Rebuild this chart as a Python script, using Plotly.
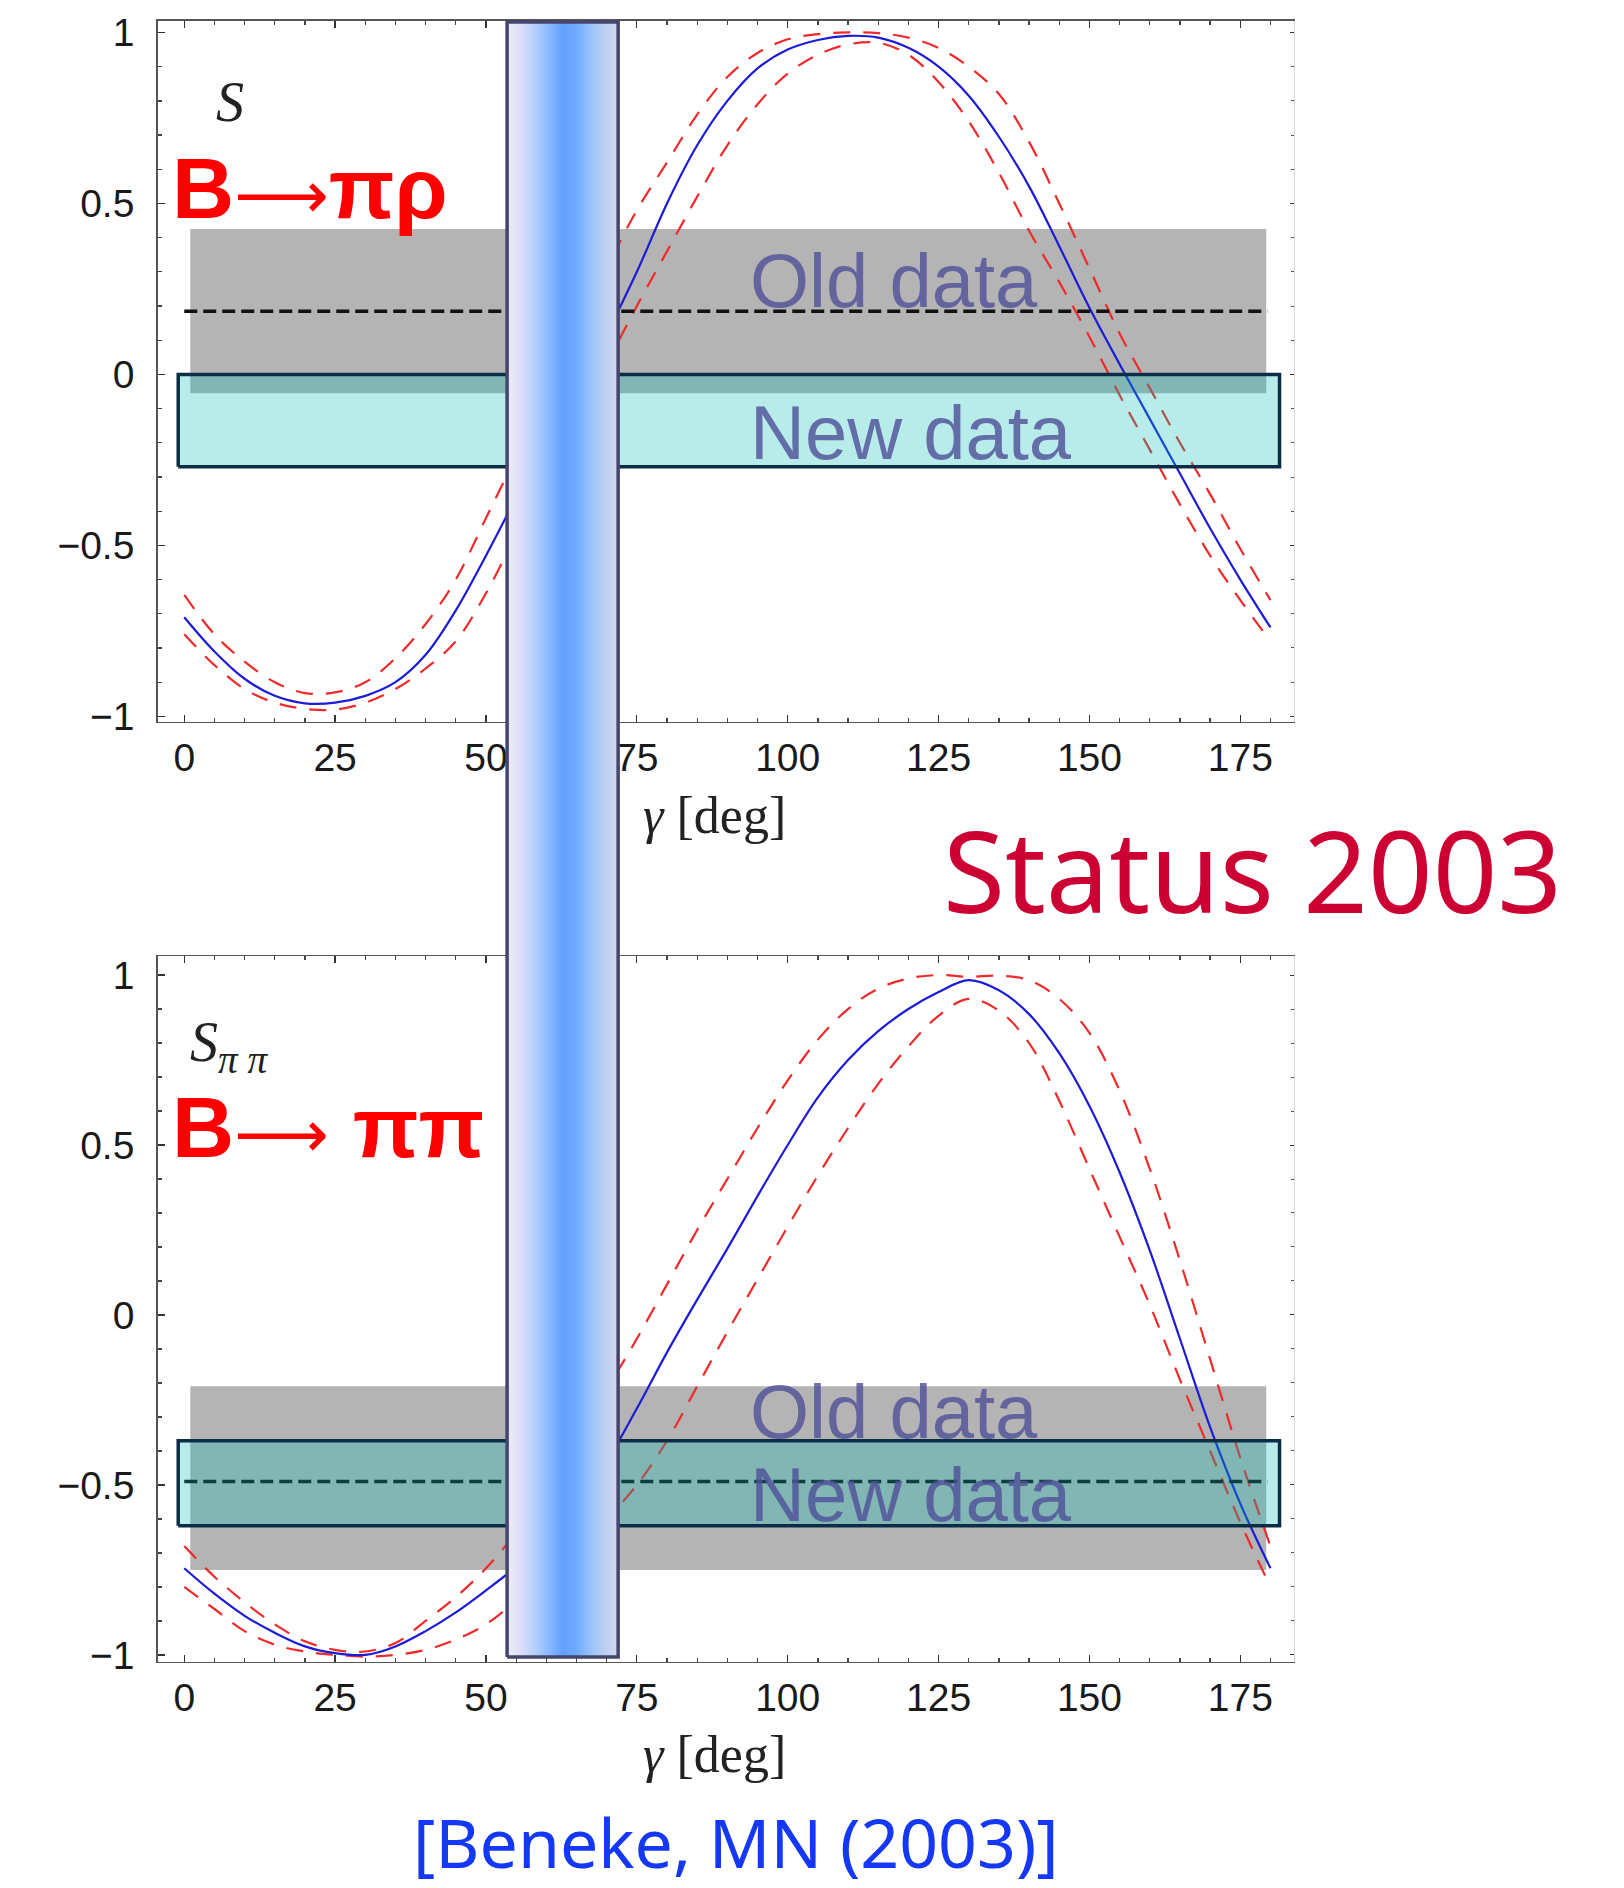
import plotly.graph_objects as go

# ---------------------------------------------------------------------------
# Tabulated predictions, gamma in degrees
# ---------------------------------------------------------------------------
gamma = [0, 5, 10, 15, 20, 25, 30, 35, 40, 45, 50, 55, 60, 65, 70, 75, 80, 85, 90,
         95, 100, 105, 110, 115, 120, 125, 130, 135, 140, 145, 150, 155, 160, 165,
         170, 175, 180]

# S for B -> pi rho : central value and upper / lower error curves
s_pirho = [-0.71, -0.81, -0.89, -0.94, -0.962, -0.96, -0.94, -0.90, -0.82, -0.69,
           -0.53, -0.36, -0.19, -0.03, 0.12, 0.30, 0.50, 0.67, 0.80, 0.895, 0.95,
           0.978, 0.99, 0.985, 0.955, 0.90, 0.815, 0.695, 0.55, 0.375, 0.195, 0.03,
           -0.13, -0.29, -0.45, -0.60, -0.74]
s_pirho_hi = [-0.645, -0.76, -0.84, -0.90, -0.932, -0.93, -0.90, -0.83, -0.73, -0.60,
              -0.42, -0.24, -0.06, 0.12, 0.31, 0.48, 0.62, 0.76, 0.87, 0.94, 0.98,
              0.995, 1.0, 0.998, 0.985, 0.955, 0.90, 0.82, 0.68, 0.50, 0.31, 0.12,
              -0.04, -0.20, -0.35, -0.51, -0.66]
s_pirho_lo = [-0.76, -0.85, -0.92, -0.96, -0.978, -0.98, -0.96, -0.92, -0.86, -0.78,
              -0.64, -0.47, -0.31, -0.14, 0.03, 0.20, 0.36, 0.52, 0.67, 0.79, 0.88,
              0.935, 0.965, 0.97, 0.935, 0.855, 0.74, 0.59, 0.42, 0.27, 0.11, -0.06,
              -0.22, -0.38, -0.53, -0.66, -0.78]

# S for B -> pi pi : central value and upper / lower error curves
s_pipi = [-0.745, -0.82, -0.885, -0.935, -0.975, -0.995, -1.0, -0.975, -0.93, -0.875,
          -0.81, -0.74, -0.65, -0.55, -0.43, -0.275, -0.11, 0.045, 0.195, 0.35, 0.50,
          0.64, 0.75, 0.835, 0.90, 0.95, 0.985, 0.955, 0.885, 0.77, 0.615, 0.42,
          0.19, -0.07, -0.33, -0.555, -0.745]
s_pipi_hi = [-0.68, -0.77, -0.845, -0.91, -0.96, -0.985, -0.99, -0.965, -0.90, -0.83,
             -0.745, -0.64, -0.51, -0.37, -0.22, -0.07, 0.09, 0.25, 0.40, 0.55, 0.69,
             0.81, 0.90, 0.96, 0.99, 1.0, 0.995, 0.998, 0.985, 0.93, 0.83, 0.66, 0.43,
             0.16, -0.13, -0.42, -0.68]
s_pipi_lo = [-0.80, -0.865, -0.93, -0.97, -0.99, -1.0, -1.005, -1.0, -0.985, -0.955,
             -0.91, -0.84, -0.76, -0.68, -0.60, -0.50, -0.37, -0.21, -0.05, 0.105,
             0.26, 0.41, 0.55, 0.68, 0.79, 0.88, 0.93, 0.895, 0.80, 0.63, 0.43, 0.23,
             0.03, -0.19, -0.40, -0.61, -0.80]

# Measurements: old average (band + central value) and new average (band)
old_pirho_center = 0.185
old_pirho_band = [-0.055, 0.425]
new_pirho_band = [-0.27, 0.0]
old_pipi_center = -0.49
old_pipi_band = [-0.75, -0.21]
new_pipi_band = [-0.62, -0.37]

# Preferred range of gamma from the global fit (degrees)
gamma_fit = [53.5, 71.9]

x_ticks = [0, 25, 50, 75, 100, 125, 150, 175]
y_ticks = [-1, -0.5, 0, 0.5, 1]

# ---------------------------------------------------------------------------
# Styling / geometry
# ---------------------------------------------------------------------------
W, H = 1624, 1888
X_DOM = [157.7 / W, 1294 / W]
X_RANGE = [-4.4, 183.9]
Y_DOM_TOP = [1 - 721.5 / H, 1 - 20.5 / H]
Y_RANGE_TOP = [-1.015, 1.035]
Y_DOM_BOT = [1 - 1661.7 / H, 1 - 956 / H]
Y_RANGE_BOT = [-1.02, 1.056]
BAR_SPAN = [1 - 1657 / H, 1 - 22 / H]

OLD_SPAN = [1.0, 179.3]     # horizontal extent of the old-data band
NEW_SPAN = [-1.0, 181.5]    # horizontal extent of the new-data box

BLUE = "#1c1cd8"
RED = "#f02a2a"
GRAY_BAND = "#b4b4b4"
NEW_FILL = "rgba(0,187,180,0.28)"
NEW_EDGE = "#0c2d46"
DATA_TEXT = "rgba(80,80,152,0.82)"
SANS = "Liberation Sans, Arial, sans-serif"
SERIF = "Liberation Serif, Times New Roman, serif"
ARROW = "<span style='font-family:DejaVu Sans;font-weight:normal;font-size:66px'>⟶</span>"

BAR_SCALE = [
    [0.00, "#f0eaf6"],
    [0.12, "#dcdff7"],
    [0.25, "#b4d0fa"],
    [0.38, "#88b9ff"],
    [0.50, "#639fff"],
    [0.62, "#70aaff"],
    [0.75, "#98c2fa"],
    [0.88, "#bdd0f1"],
    [1.00, "#d2daee"],
]

fig = go.Figure()


def add_panel(xa, ya, mid, hi, lo, old_c, new_band):
    for curve in (hi, lo):
        fig.add_trace(go.Scatter(
            x=gamma, y=curve, xaxis=xa, yaxis=ya, mode="lines",
            line=dict(color=RED, width=2.2, dash="17px,13px", shape="spline"),
            hoverinfo="skip"))
    fig.add_trace(go.Scatter(
        x=gamma, y=mid, xaxis=xa, yaxis=ya, mode="lines",
        line=dict(color=BLUE, width=2.2, shape="spline"), hoverinfo="skip"))
    # central value of the old average
    fig.add_trace(go.Scatter(
        x=[gamma[0], 179.5], y=[old_c, old_c], xaxis=xa, yaxis=ya, mode="lines",
        line=dict(color="#111111", width=3.5, dash="13px,6px"), hoverinfo="skip"))
    # new average, drawn as a translucent outlined box
    x0, x1 = NEW_SPAN
    y0, y1 = new_band
    fig.add_trace(go.Scatter(
        x=[x0, x1, x1, x0, x0], y=[y0, y0, y1, y1, y0], xaxis=xa, yaxis=ya,
        mode="lines", fill="toself", fillcolor=NEW_FILL,
        line=dict(color=NEW_EDGE, width=3.5), hoverinfo="skip"))


add_panel("x", "y", s_pirho, s_pirho_hi, s_pirho_lo, old_pirho_center, new_pirho_band)
add_panel("x2", "y2", s_pipi, s_pipi_hi, s_pipi_lo, old_pipi_center, new_pipi_band)

# right-hand frame axes (tick marks only)
fig.add_trace(go.Scatter(x=[None], y=[None], xaxis="x", yaxis="y4", hoverinfo="skip"))
fig.add_trace(go.Scatter(x=[None], y=[None], xaxis="x2", yaxis="y5", hoverinfo="skip"))

# gamma range from the fit, spanning both panels
g0, g1 = gamma_fit
b0, b1 = BAR_SPAN
fig.add_trace(go.Scatter(
    x=[g0, g1, g1, g0, g0], y=[b0, b0, b1, b1, b0], xaxis="x3", yaxis="y3",
    mode="lines", fill="toself",
    fillgradient=dict(type="horizontal", colorscale=BAR_SCALE, start=g0, stop=g1),
    line=dict(color="#45456d", width=3.5), hoverinfo="skip"))

# old-data bands
for yref, band in (("y", old_pirho_band), ("y2", old_pipi_band)):
    fig.add_shape(type="rect", xref=yref.replace("y", "x"), yref=yref,
                  x0=OLD_SPAN[0], x1=OLD_SPAN[1], y0=band[0], y1=band[1],
                  fillcolor=GRAY_BAND, line=dict(width=0), layer="below")

tickfont = dict(family=SANS, size=39, color="#1a1a1a")


def xaxis_cfg(anchor):
    return dict(domain=X_DOM, range=X_RANGE, anchor=anchor, tickmode="array",
                tickvals=x_ticks, ticks="inside", ticklen=7, tickwidth=1.3,
                tickcolor="#333", minor=dict(tickmode="linear", tick0=0, dtick=5,
                                             ticks="inside", ticklen=4, tickcolor="#444"),
                showline=True, linecolor="#555", linewidth=1.5, mirror="ticks",
                showgrid=False, zeroline=False, tickfont=tickfont,
                ticklabelstandoff=1, fixedrange=True)


def yaxis_cfg(anchor, dom, rng):
    return dict(domain=dom, range=rng, anchor=anchor, tickmode="array",
                tickvals=y_ticks, ticks="inside", ticklen=7, tickwidth=1.3,
                tickcolor="#333", minor=dict(tickmode="linear", tick0=0, dtick=0.1,
                                             ticks="inside", ticklen=4, tickcolor="#444"),
                showline=True, linecolor="#555", linewidth=1.5,
                showgrid=False, zeroline=False, tickfont=tickfont,
                ticklabelstandoff=14, fixedrange=True)


def right_cfg(over, anchor, rng):
    return dict(overlaying=over, anchor=anchor, side="right", range=rng,
                tickmode="array", tickvals=y_ticks, ticks="inside", ticklen=4,
                tickcolor="#333", minor=dict(tickmode="linear", tick0=0, dtick=0.1,
                                             ticks="inside", ticklen=3, tickcolor="#555"),
                showline=True, linecolor="#d6d6d6", linewidth=1,
                showticklabels=False, showgrid=False, zeroline=False, fixedrange=True)


annotations = []


def note(text, x, y, size, color, family=SANS, xanchor="left", yanchor="middle"):
    annotations.append(dict(text=text, x=x, y=y, xref="paper", yref="paper",
                            xanchor=xanchor, yanchor=yanchor, showarrow=False,
                            font=dict(family=family, size=size, color=color)))


# panel labels
note("<i>S</i>", 230 / W, 1 - 102 / H, 56, "#222222", SERIF, xanchor="center")
note("<i>S<sub>π π</sub></i>", 188 / W, 1 - 1046 / H, 56, "#222222", SERIF)
note("<b>B</b>" + ARROW + "<b>πρ</b>", 170 / W, 1 - 188 / H, 86, "#ff0000")
note("<b>B</b>" + ARROW + " <b>ππ</b>", 170 / W, 1 - 1127 / H, 86, "#ff0000")

# data labels
for y_full, label in ((281, "Old data"), (432, "New data"),
                      (1411, "Old data"), (1494, "New data")):
    note(label, 748 / W, 1 - y_full / H, 76, DATA_TEXT)

# axis titles
for y_full in (816, 1754):
    note("<i>γ</i> [deg]", 714 / W, 1 - y_full / H, 52, "#222222", SERIF,
         xanchor="center")

note("Status 2003", 941 / W, 1 - 869 / H, 113, "#cc0033", "Noto Sans, sans-serif")
note("[Beneke, MN (2003)]", 411 / W, 1 - 1841 / H, 68, "#1438f5",
     "Noto Sans, sans-serif")

fig.update_layout(
    width=W, height=H, margin=dict(l=0, r=0, t=0, b=0, autoexpand=False),
    paper_bgcolor="white", plot_bgcolor="rgba(0,0,0,0)", showlegend=False,
    xaxis=xaxis_cfg("y"),
    yaxis=yaxis_cfg("x", Y_DOM_TOP, Y_RANGE_TOP),
    xaxis2=xaxis_cfg("y2"),
    yaxis2=yaxis_cfg("x2", Y_DOM_BOT, Y_RANGE_BOT),
    xaxis3=dict(domain=X_DOM, range=X_RANGE, anchor="y3", visible=False,
                fixedrange=True),
    yaxis3=dict(domain=[0, 1], range=[0, 1], anchor="x3", visible=False,
                fixedrange=True),
    yaxis4=right_cfg("y", "x", Y_RANGE_TOP),
    yaxis5=right_cfg("y2", "x2", Y_RANGE_BOT),
    annotations=annotations,
)

fig.write_html("out.html", config=dict(displayModeBar=False, staticPlot=True))
